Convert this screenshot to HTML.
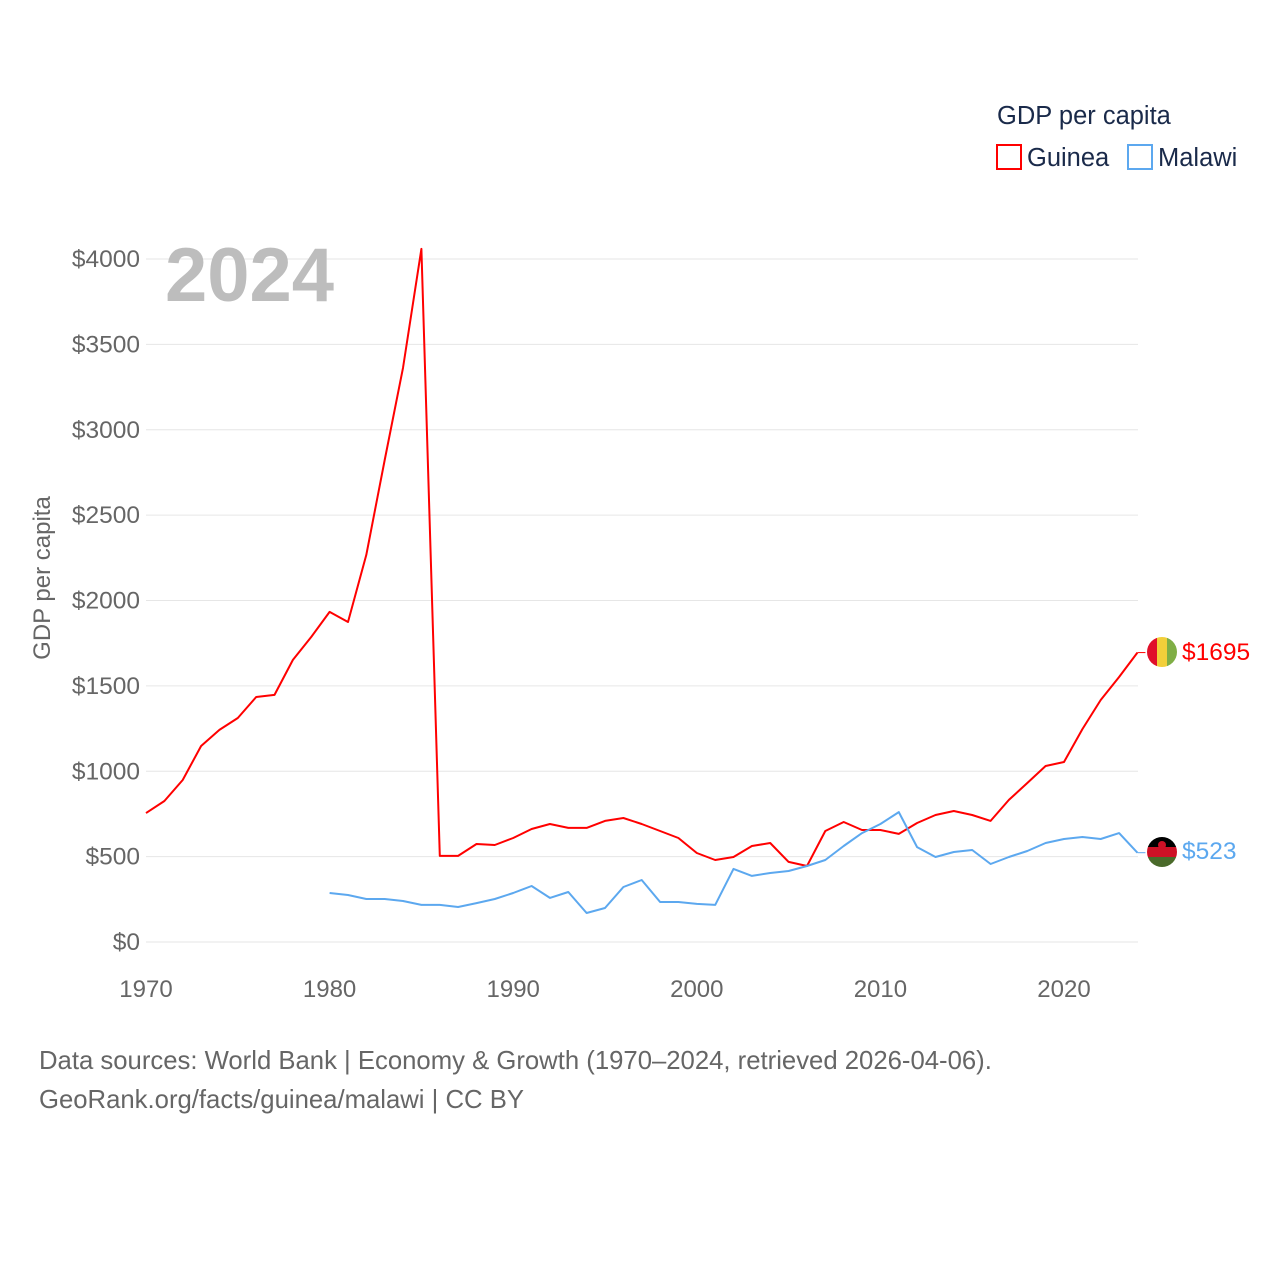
<!DOCTYPE html>
<html><head><meta charset="utf-8"><style>
body{margin:0;background:#fff;}
svg{display:block;font-family:"Liberation Sans",sans-serif;}
</style></head><body>
<svg id="chart" width="1280" height="1280" viewBox="0 0 1280 1280">
<rect width="1280" height="1280" fill="#fff"/>
<g id="grid"></g><g id="yticks"></g><g id="xticks"></g>
<text x="165" y="301" font-size="76" font-weight="bold" fill="#bdbdbd">2024</text>
<text transform="translate(50,578) rotate(-90)" text-anchor="middle" font-size="24" fill="#666">GDP per capita</text>
<g id="series"></g>
<text x="997" y="124" font-size="25.5" fill="#1a2a4a">GDP per capita</text>
<g><rect x="997" y="145" width="24" height="24" fill="none" stroke="#ff0000" stroke-width="2"/><text x="1027" y="166" font-size="25.5" fill="#1a2a4a">Guinea</text></g>
<g><rect x="1128" y="145" width="24" height="24" fill="none" stroke="#5ca8ef" stroke-width="2"/><text x="1158" y="166" font-size="25.5" fill="#1a2a4a">Malawi</text></g>
<defs><clipPath id="c1"><circle cx="1162" cy="652" r="15"/></clipPath><clipPath id="c2"><circle cx="1162" cy="852" r="15"/></clipPath></defs>
<g clip-path="url(#c1)"><rect x="1147" y="637" width="10" height="30" fill="#e0102a"/><rect x="1157" y="637" width="10" height="30" fill="#f2cf3a"/><rect x="1167" y="637" width="10" height="30" fill="#7fae45"/></g>
<g clip-path="url(#c2)"><rect x="1147" y="837" width="30" height="10" fill="#000"/><rect x="1147" y="847" width="30" height="10" fill="#ce1126"/><rect x="1147" y="857" width="30" height="10" fill="#4a6a2a"/><circle cx="1162" cy="845" r="4" fill="#ce1126"/></g>
<text x="1182" y="660" font-size="24.5" fill="#ff0000">$1695</text>
<text x="1182" y="859" font-size="24.5" fill="#5ca8ef">$523</text>
<text x="39" y="1069" font-size="25.7" fill="#666">Data sources: World Bank | Economy &amp; Growth (1970–2024, retrieved 2026-04-06).</text>
<text x="39" y="1108" font-size="25.7" fill="#666">GeoRank.org/facts/guinea/malawi | CC BY</text>
</svg>
<script>
const guineaYears=[1970,1971,1972,1973,1974,1975,1976,1977,1978,1979,1980,1981,1982,1983,1984,1985,1986,1987,1988,1989,1990,1991,1992,1993,1994,1995,1996,1997,1998,1999,2000,2001,2002,2003,2004,2005,2006,2007,2008,2009,2010,2011,2012,2013,2014,2015,2016,2017,2018,2019,2020,2021,2022,2023,2024];
const guineaValues=[755,826,949,1148,1242,1312,1435,1447,1652,1786,1933,1874,2267,2823,3362,4059,504,504,574,568,609,662,691,668,668,709,726,691,650,609,521,480,498,562,580,469,445,650,703,656,656,633,697,744,767,744,709,832,931,1031,1054,1247,1417,1552,1695];
const malawiYears=[1980,1981,1982,1983,1984,1985,1986,1987,1988,1989,1990,1991,1992,1993,1994,1995,1996,1997,1998,1999,2000,2001,2002,2003,2004,2005,2006,2007,2008,2009,2010,2011,2012,2013,2014,2015,2016,2017,2018,2019,2020,2021,2022,2023,2024];
const malawiValues=[287,275,252,252,240,217,217,205,228,252,287,328,258,293,170,199,322,363,234,234,223,217,428,387,404,416,445,480,562,638,691,761,556,498,527,539,457,498,533,580,603,615,603,638,523];
const yTicks=[0,500,1000,1500,2000,2500,3000,3500,4000];
const xTicks=[1970,1980,1990,2000,2010,2020];
const NS="http://www.w3.org/2000/svg";
const xs=y=>146+(y-1970)*18.36;
const ys=v=>942-v*0.17075;
const mk=(t,a,p)=>{const e=document.createElementNS(NS,t);for(const k in a)e.setAttribute(k,a[k]);p.appendChild(e);return e;};
const grid=document.getElementById('grid'),yt=document.getElementById('yticks'),xt=document.getElementById('xticks');
yTicks.forEach(v=>{
 const l=mk('line',{x1:146,x2:1138,y1:ys(v),y2:ys(v),stroke:'#e6e6e6','stroke-width':1},grid);
 
 
 const t=mk('text',{x:140,y:ys(v)+8,'text-anchor':'end','font-size':24.5,fill:'#666'},yt);
 t.textContent='$'+v;
 
 
});
xTicks.forEach(v=>{
 const t=mk('text',{x:xs(v),y:997,'text-anchor':'middle','font-size':24,fill:'#666'},xt);
 t.textContent=v;
 
 
});
const sg=document.getElementById('series');
function line(years,vals,color,name){
 const d=years.map((y,i)=>(i?'L':'M')+xs(y).toFixed(1)+','+ys(vals[i]).toFixed(1)).join('');
 const p=mk('path',{d:d,fill:'none',stroke:color,'stroke-width':2,'stroke-linejoin':'round'},sg);
 
 
 const last=years.length-1;
 const c=mk('line',{x1:xs(years[last]),x2:xs(years[last])+8,y1:ys(vals[last]),y2:ys(vals[last]),stroke:color,'stroke-width':1},sg);
 
 
}
line(guineaYears,guineaValues,'#ff0000','guinea-line');
line(malawiYears,malawiValues,'#5ca8ef','malawi-line');
</script>
</body></html>
